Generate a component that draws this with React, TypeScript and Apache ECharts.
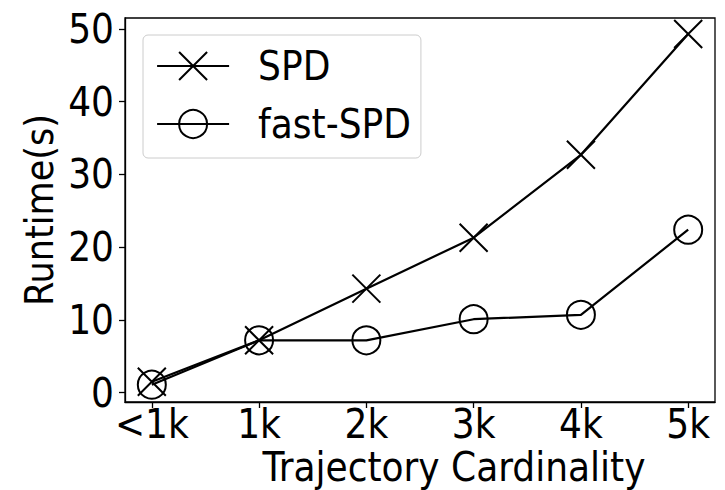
import React, { useEffect, useRef } from 'react';
import * as echarts from 'echarts';

const categories = ['<1k', '1k', '2k', '3k', '4k', '5k'];
const spd = [1.5, 7.2, 14.3, 21.3, 32.7, 49.3];
const fastSpd = [1.1, 7.2, 7.2, 10.1, 10.7, 22.4];
const yTicks = [0, 10, 20, 30, 40, 50];
const seriesNames = ['SPD', 'fast-SPD'];
const xAxisTitle = 'Trajectory Cardinality';
const yAxisTitle = 'Runtime(s)';

const FONT = '"DejaVu Sans Condensed", "DejaVu Sans"';
const X_SYMBOL = 'path://M0,0L20,20M20,0L0,20';

export default function App() {
  const ref = useRef<HTMLDivElement>(null);
  useEffect(() => {
    const chart = echarts.init(ref.current as HTMLDivElement, null, { renderer: 'svg' });
    const xIdx = categories.map((_, i) => i);
    const axisLineStyle = { color: '#000', width: 1.3 };
    chart.setOption({
      animation: false,
      backgroundColor: '#fff',
      grid: {
        left: 125, right: 10, top: 18, bottom: 88,
        containLabel: false, outerBoundsMode: 'none',
        show: true, borderColor: '#000', borderWidth: 1.3, backgroundColor: 'transparent',
      },
      xAxis: {
        type: 'value', min: -0.25, max: 5.25,
        axisLine: { show: true, onZero: false, lineStyle: axisLineStyle },
        axisTick: { show: true, customValues: xIdx, length: 6, lineStyle: axisLineStyle },
        axisLabel: {
          customValues: xIdx,
          formatter: (v: number) => categories[Math.round(v)] ?? '',
          fontFamily: FONT, fontSize: 40, lineHeight: 36, color: '#000', margin: 4,
        },
        splitLine: { show: false },
        name: xAxisTitle, nameLocation: 'middle', nameGap: 47, nameMoveOverlap: false,
        nameTextStyle: { fontFamily: FONT, fontSize: 40, lineHeight: 36, color: '#000', padding: [0, 0, 0, 68] },
      },
      yAxis: {
        type: 'value', min: -1.28, max: 51.5,
        axisLine: { show: true, onZero: false, lineStyle: axisLineStyle },
        axisTick: { show: true, customValues: yTicks, length: 6, lineStyle: axisLineStyle },
        axisLabel: {
          customValues: yTicks,
          fontFamily: FONT, fontSize: 40, color: '#000', margin: 11,
        },
        splitLine: { show: false },
        name: yAxisTitle, nameLocation: 'middle', nameGap: 66, nameRotate: 90, nameMoveOverlap: false,
        nameTextStyle: { fontFamily: FONT, fontSize: 39, color: '#000' },
      },
      legend: {
        orient: 'vertical', left: 143, top: 35,
        itemWidth: 72, itemHeight: 35, itemGap: 18,
        padding: [11, 10, 14, 13],
        backgroundColor: 'rgba(255,255,255,0.85)', borderColor: '#cccccc', borderWidth: 1, borderRadius: 5,
        textStyle: { fontFamily: FONT, fontSize: 40, color: '#000', lineHeight: 35, padding: [0, 0, 0, 24] },
        itemStyle: { borderWidth: 2, borderColor: '#000', color: 'transparent' },
        lineStyle: { width: 2.2, color: '#000' },
        data: seriesNames,
      },
      series: [
        {
          name: seriesNames[0], type: 'line',
          data: spd.map((v, i) => [i, v]),
          symbol: X_SYMBOL, symbolSize: 28,
          itemStyle: { color: 'transparent', borderColor: '#000', borderWidth: 2 },
          lineStyle: { color: '#000', width: 2.2 },
          emphasis: { disabled: true },
          z: 3,
        },
        {
          name: seriesNames[1], type: 'line',
          data: fastSpd.map((v, i) => [i, v]),
          symbol: 'circle', symbolSize: 28,
          itemStyle: { color: 'transparent', borderColor: '#000', borderWidth: 2 },
          lineStyle: { color: '#000', width: 2.2 },
          emphasis: { disabled: true },
          z: 2,
        },
      ],
    });
    return () => chart.dispose();
  }, []);
  return <div ref={ref} style={{ position: 'fixed', left: 0, top: 0, width: 725, height: 490 }} />;
}
